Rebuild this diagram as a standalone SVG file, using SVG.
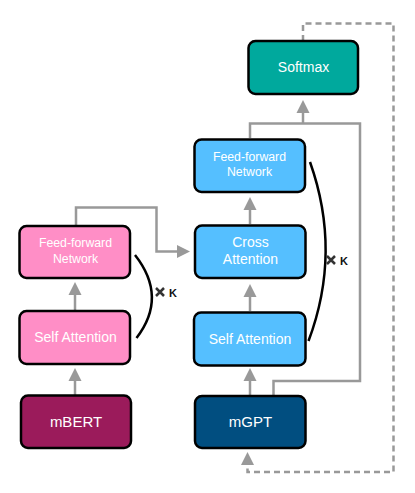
<svg xmlns="http://www.w3.org/2000/svg" width="415" height="493" viewBox="0 0 415 493">
<defs>
<marker id="ah" markerWidth="14" markerHeight="14" refX="-13" refY="0" viewBox="-13.5 -7 14 14" orient="auto" markerUnits="userSpaceOnUse">
<path d="M-13,-6.5 L0,0 L-13,6.5 Z" fill="#999999"/>
</marker>
<style>
.box{stroke:#000;stroke-width:2.5}
.t{font-family:"Liberation Sans",Arial,sans-serif;fill:#fff;text-anchor:middle}
.c{fill:none;stroke:#999999;stroke-width:2.5}
.d{fill:none;stroke:#999999;stroke-width:2.5;stroke-dasharray:6,4}
.br{fill:none;stroke:#000;stroke-width:2.5}
.k{font-family:"Liberation Sans",Arial,sans-serif;font-weight:bold;font-size:11px;fill:#111}
</style>
</defs>
<rect width="415" height="493" fill="#fff"/>
<g id="connectors">
<path class="c" d="M75,395 V381" marker-end="url(#ah)"/>
<path class="c" d="M75,310 V295" marker-end="url(#ah)"/>
<path class="c" d="M76,225 V207.5 H156.5 V251.5 H177" marker-end="url(#ah)"/>
<path class="c" d="M250,395 V381" marker-end="url(#ah)"/>
<path class="c" d="M250,311 V297" marker-end="url(#ah)"/>
<path class="c" d="M250,224 V210" marker-end="url(#ah)"/>
<path class="c" d="M250,138 V123.5 H360 V381 H273.5 V395"/>
<path class="c" d="M303,123.5 V113" marker-end="url(#ah)"/>
<path class="d" d="M303,41 V23.5 H393.5 V472 H247.5 V465" marker-end="url(#ah)"/>
</g>
<g id="mBERT">
<rect class="box" x="21" y="395.5" width="110" height="52.5" rx="7" fill="#9B1B5B"/>
<text class="t" x="76" y="426.5" font-size="15">mBERT</text>
</g>
<g id="selfAttnEnc">
<rect class="box" x="19.5" y="311" width="110.5" height="53" rx="7" fill="#FF8EC6"/>
<text class="t" x="75.5" y="341.5" font-size="14">Self Attention</text>
</g>
<g id="ffnEnc">
<rect class="box" x="19.5" y="226" width="110.5" height="52" rx="7" fill="#FF8EC6"/>
<text class="t" x="75.5" y="247" font-size="12.3">Feed-forward</text>
<text class="t" x="75.5" y="262.5" font-size="12.3">Network</text>
</g>
<g id="mGPT">
<rect class="box" x="195" y="396" width="110.5" height="52" rx="7" fill="#014E80"/>
<text class="t" x="250.5" y="426.5" font-size="15">mGPT</text>
</g>
<g id="selfAttnDec">
<rect class="box" x="194" y="312.5" width="111.5" height="53" rx="7" fill="#55BFFF"/>
<text class="t" x="250" y="344" font-size="14">Self Attention</text>
</g>
<g id="crossAttn">
<rect class="box" x="195" y="225.5" width="110.5" height="52.5" rx="7" fill="#55BFFF"/>
<text class="t" x="250.5" y="247" font-size="14">Cross</text>
<text class="t" x="250.5" y="263.5" font-size="14">Attention</text>
</g>
<g id="ffnDec">
<rect class="box" x="194.5" y="139.5" width="110.5" height="52.5" rx="7" fill="#55BFFF"/>
<text class="t" x="249.5" y="161" font-size="12.3">Feed-forward</text>
<text class="t" x="249.5" y="176" font-size="12.3">Network</text>
</g>
<g id="softmax">
<rect class="box" x="248.5" y="41" width="109.5" height="53" rx="7" fill="#00A99D"/>
<text class="t" x="303.5" y="72" font-size="14">Softmax</text>
</g>
<g id="repeatEnc">
<path class="br" d="M135,255 Q168,297 136.5,338"/>
<path d="M156,288 L164,296 M164,288 L156,296" stroke="#333" stroke-width="2.5"/>
<text class="k" x="169" y="296.5">K</text>
</g>
<g id="repeatDec">
<path class="br" d="M310,162 Q342,252 308.5,341"/>
<path d="M327,256 L335,264 M335,256 L327,264" stroke="#333" stroke-width="2.5"/>
<text class="k" x="340" y="264.5">K</text>
</g>
</svg>
